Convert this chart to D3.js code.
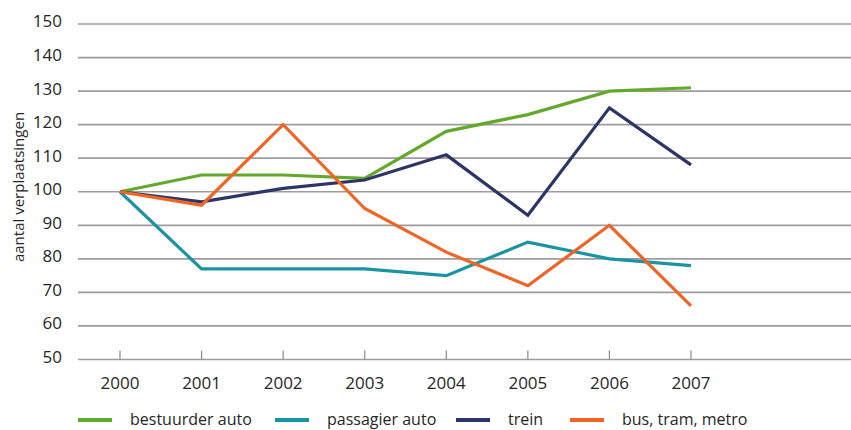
<!DOCTYPE html>
<html>
<head>
<meta charset="utf-8">
<script src="https://cdn.jsdelivr.net/npm/d3@7"></script>
<style>
  html, body { margin: 0; padding: 0; background: #fff; }
  svg { display: block; }
  text { font-family: "Open Sans", "Noto Sans", sans-serif; fill: #262626; }
</style>
</head>
<body>
<svg id="chart" width="851" height="430"></svg>
<script>
// Verplaatsingen per vervoerwijze, index 2000 = 100
const years = [2000, 2001, 2002, 2003, 2004, 2005, 2006, 2007];
const bestuurderAuto = [100, 105, 105, 104, 118, 123, 130, 131];
const passagierAuto  = [100, 77, 77, 77, 75, 85, 80, 78];
const trein          = [100, 97, 101, 103.5, 111, 93, 125, 108];
const busTramMetro   = [100, 96, 120, 95, 82, 72, 90, 66];
const yTicks = [50, 60, 70, 80, 90, 100, 110, 120, 130, 140, 150];

const seriesNames  = ["bestuurder auto", "passagier auto", "trein", "bus, tram, metro"];
const seriesValues = [bestuurderAuto, passagierAuto, trein, busTramMetro];
const seriesColors = ["#63a92c", "#1a93a3", "#2c3566", "#ef6525"];

const svg = d3.select("#chart");
const W = 851;

const x = d3.scaleLinear().domain([2000, 2007]).range([120, 691]);
const y = d3.scaleLinear().domain([50, 150]).range([359.5, 24]);
const gridLeft = 78;

// horizontal grid lines
svg.append("g")
  .selectAll("line")
  .data(yTicks)
  .join("line")
  .attr("x1", gridLeft)
  .attr("x2", W)
  .attr("y1", d => y(d))
  .attr("y2", d => y(d))
  .attr("stroke", "#9c9c9c")
  .attr("stroke-width", 1.7);

// y tick labels
svg.append("g")
  .selectAll("text")
  .data(yTicks)
  .join("text")
  .attr("x", 62)
  .attr("y", d => y(d) - 2.5)
  .attr("dy", "0.35em")
  .attr("text-anchor", "end")
  .style("font-size", "17px")
  .text(d => d);

// x axis ticks and labels
const xg = svg.append("g");
xg.selectAll("line")
  .data(years)
  .join("line")
  .attr("x1", d => x(d))
  .attr("x2", d => x(d))
  .attr("y1", y(50))
  .attr("y2", y(50) - 9)
  .attr("stroke", "#8a8a8a")
  .attr("stroke-width", 1.2);
xg.selectAll("text")
  .data(years)
  .join("text")
  .attr("x", d => x(d))
  .attr("y", 389)
  .attr("text-anchor", "middle")
  .style("font-size", "17px")
  .text(d => d);

// y axis title
svg.append("text")
  .attr("transform", "translate(24,187) rotate(-90)")
  .attr("text-anchor", "middle")
  .style("font-size", "15px")
  .text("aantal verplaatsingen");

// series lines
const line = d3.line()
  .x((d, i) => x(years[i]))
  .y(d => y(d));

svg.append("g")
  .selectAll("path")
  .data(seriesValues)
  .join("path")
  .attr("d", d => line(d))
  .attr("fill", "none")
  .attr("stroke", (d, i) => seriesColors[i])
  .attr("stroke-width", 3.2)
  .attr("stroke-linejoin", "miter");

// legend
const legendX = [78, 275, 456, 570];
const legend = svg.append("g")
  .selectAll("g")
  .data(seriesNames)
  .join("g")
  .attr("transform", (d, i) => `translate(${legendX[i]},420)`);
legend.append("line")
  .attr("x1", 0).attr("x2", 34)
  .attr("y1", 0).attr("y2", 0)
  .attr("stroke", (d, i) => seriesColors[i])
  .attr("stroke-width", 4);
legend.append("text")
  .attr("x", 52)
  .attr("y", 0)
  .attr("dy", "0.32em")
  .style("font-size", "16px")
  .text(d => d);
</script>
</body>
</html>
